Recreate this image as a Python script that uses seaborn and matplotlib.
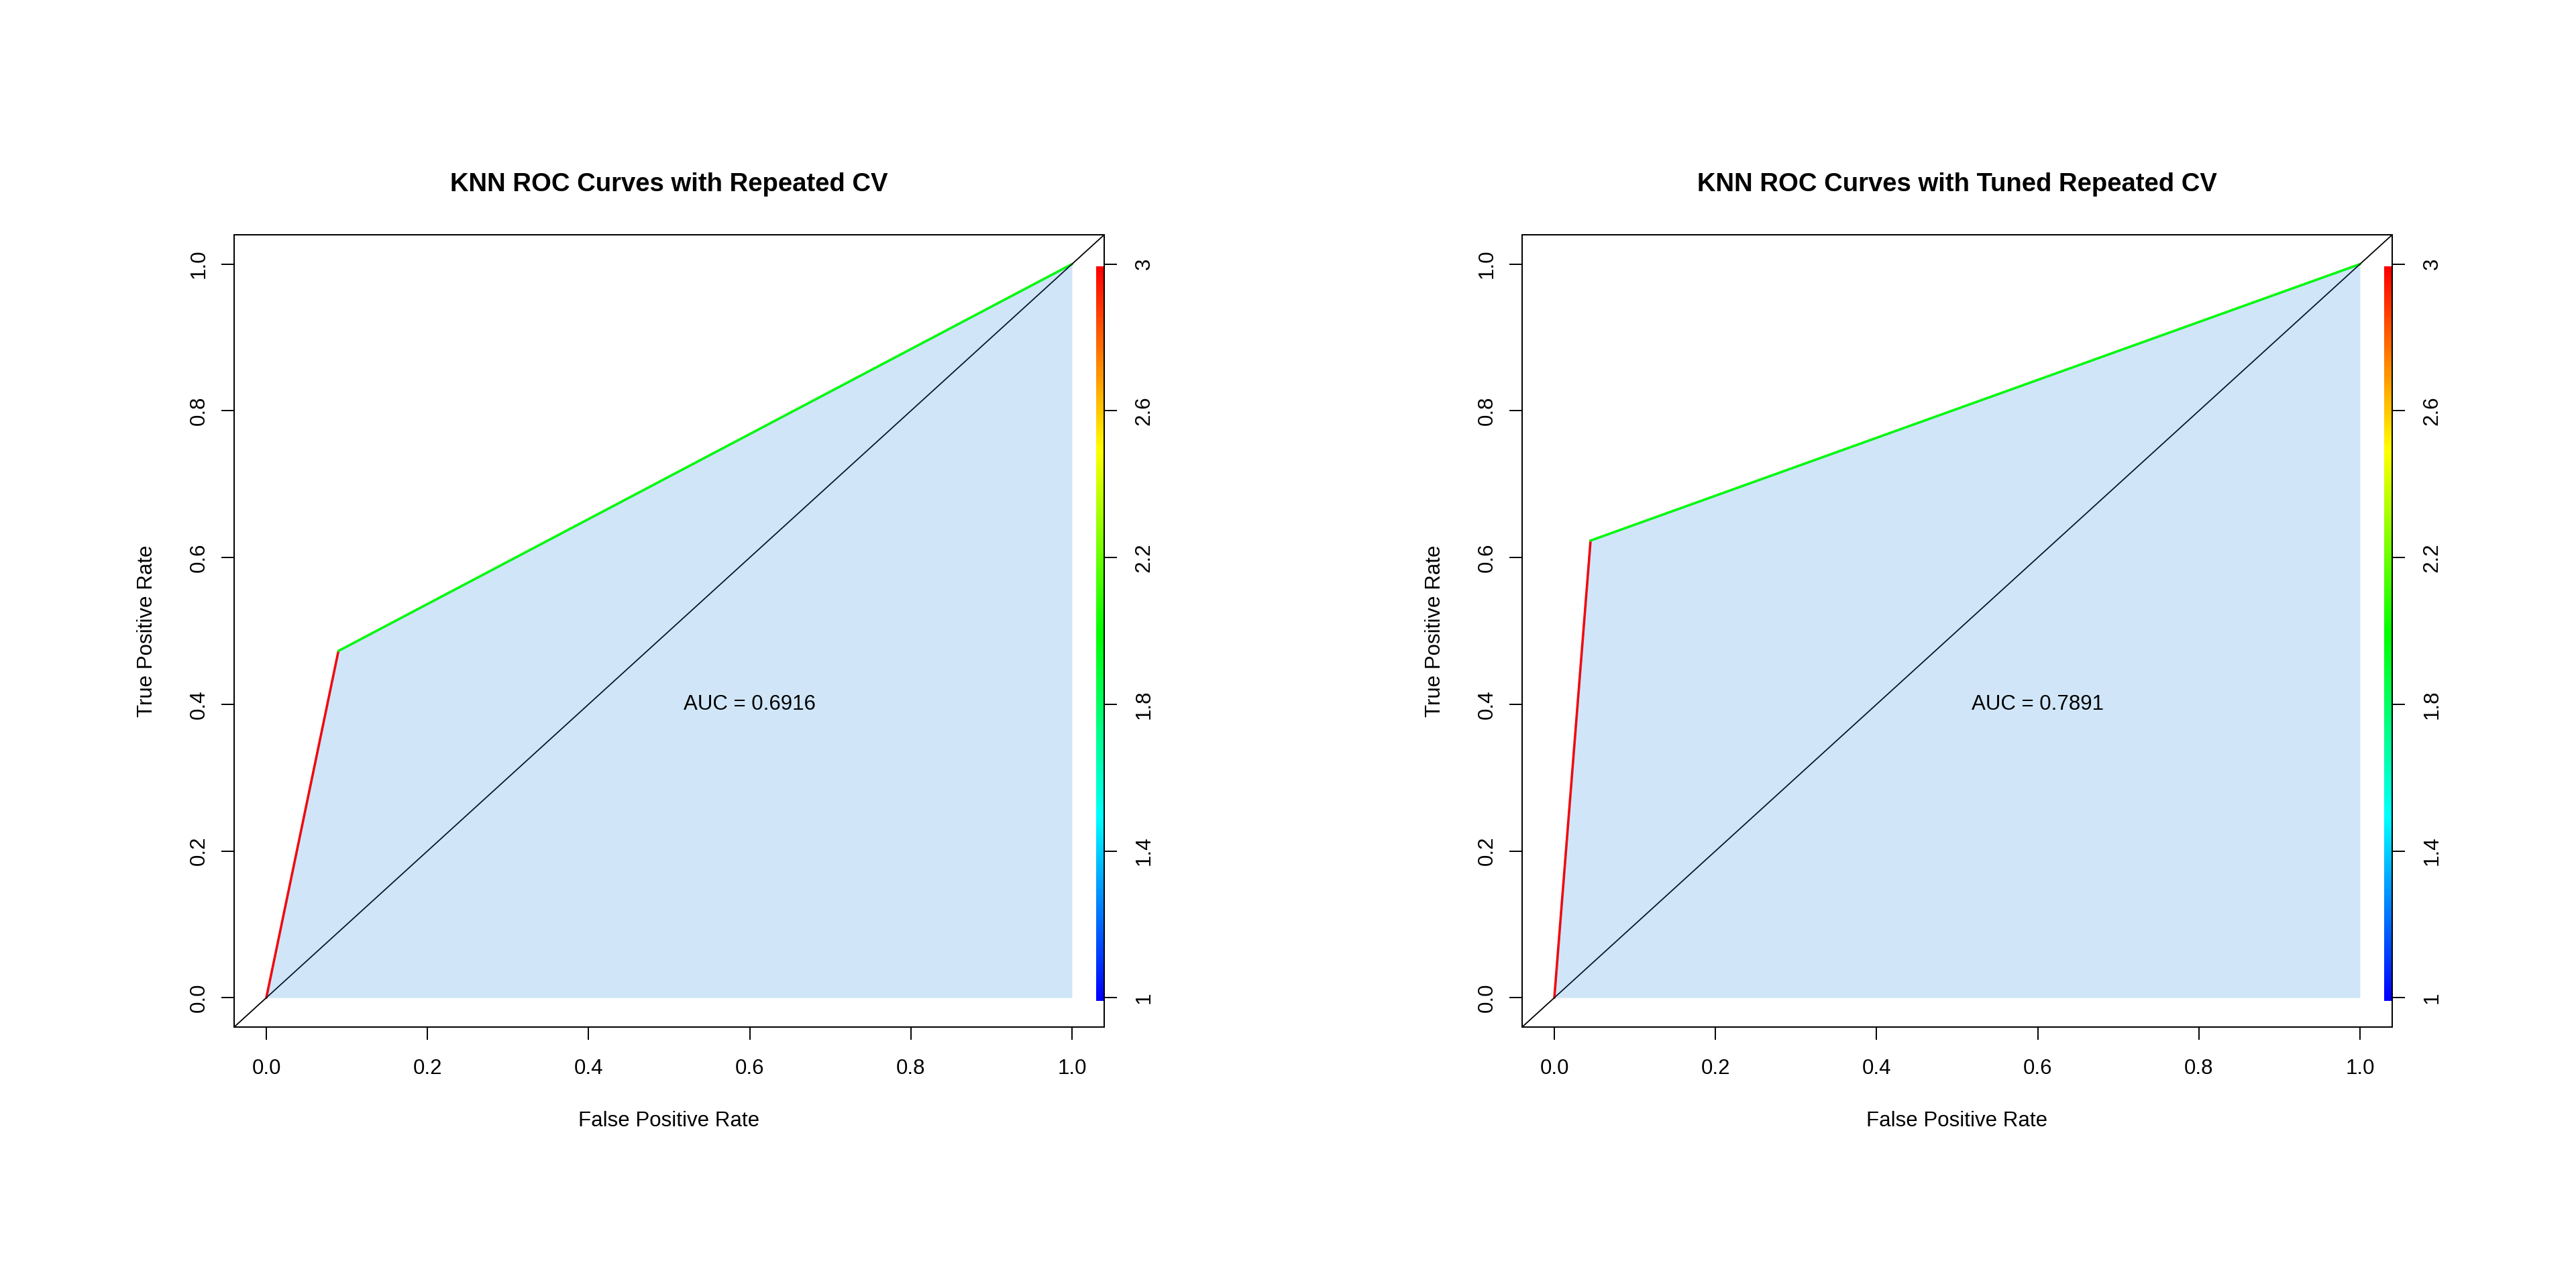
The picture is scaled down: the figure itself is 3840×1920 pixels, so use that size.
import numpy as np
import pandas as pd
import matplotlib
matplotlib.use("Agg")
import matplotlib.pyplot as plt
from matplotlib.colors import ListedColormap, hsv_to_rgb
import seaborn as sns

# values
titles = ["KNN ROC Curves with Repeated CV", "KNN ROC Curves with Tuned Repeated CV"]
fpr_values = [[0.0, 0.0895, 1.0], [0.0, 0.0450, 1.0]]
tpr_values = [[0.0, 0.4727, 1.0], [0.0, 0.6232, 1.0]]
cutoff_values = [[3, 2, 1], [3, 2, 1]]
auc_values = [0.6916, 0.7891]
axis_ticks = [0.0, 0.2, 0.4, 0.6, 0.8, 1.0]
axis_tick_labels = ["0.0", "0.2", "0.4", "0.6", "0.8", "1.0"]
cutoff_ticks = [1, 1.4, 1.8, 2.2, 2.6, 3]
cutoff_tick_labels = ["1", "1.4", "1.8", "2.2", "2.6", "3"]
cutoff_min, cutoff_max = 1, 3

sns.set_style("ticks")
plt.rcParams["font.family"] = ["Liberation Sans", "DejaVu Sans"]
plt.rcParams["text.color"] = "black"
plt.rcParams["xtick.color"] = "black"
plt.rcParams["ytick.color"] = "black"
plt.rcParams["axes.edgecolor"] = "black"

# R rainbow(start=0, end=4/6) reversed: blue for low cutoffs, red for high
hues = np.linspace(4 / 6, 0, 256)
rainbow = ListedColormap(hsv_to_rgb(np.column_stack([hues, np.ones(256), np.ones(256)])))


def norm(c):
    return (c - cutoff_min) / (cutoff_max - cutoff_min)


fs = 22.5
fig = plt.figure(figsize=(38.4, 19.2), dpi=100)
lefts = [349 / 3840, 2269 / 3840]
bottom = 1 - 1531 / 1920
width = 1297 / 3840
height = 1181 / 1920

for k in range(2):
    ax = fig.add_axes([lefts[k], bottom, width, height])
    df = pd.DataFrame({"fpr": fpr_values[k], "tpr": tpr_values[k], "cutoff": cutoff_values[k]})

    # coloured ROC segments
    for i in range(len(df) - 1):
        seg = df.iloc[i:i + 2]
        sns.lineplot(data=seg, x="fpr", y="tpr", sort=False, estimator=None,
                     color=rainbow(norm(seg["cutoff"].iloc[0])), lw=2.6,
                     ax=ax, zorder=2)

    ax.axline((0, 0), (1, 1), color="black", lw=1.3, zorder=2)
    ax.fill_between(df["fpr"], df["tpr"], 0, color=(20 / 255, 130 / 255, 220 / 255),
                    alpha=0.2, lw=0, zorder=3)

    # colour key along the right edge
    grad = np.linspace(0, 1, 256)[:, None]
    ax.imshow(grad, cmap=rainbow, extent=[1.03, 1.04, -0.004, 0.997],
              origin="lower", aspect="auto", zorder=2)

    ax.text(0.6, 0.4, f"AUC = {auc_values[k]:.4f}", ha="center", va="center",
            fontsize=fs, zorder=4)

    ax.set_xlim(-0.04, 1.04)
    ax.set_ylim(-0.04, 1.04)
    ax.set_xticks(axis_ticks)
    ax.set_xticklabels(axis_tick_labels)
    ax.set_yticks(axis_ticks)
    ax.set_yticklabels(axis_tick_labels)
    ax.set_xlabel("")
    ax.set_ylabel("")
    ax.tick_params(axis="both", length=14, width=1.4, labelsize=fs, color="black",
                   labelcolor="black")
    ax.tick_params(axis="x", pad=20)
    ax.tick_params(axis="y", pad=13)
    for lab in ax.get_yticklabels():
        lab.set_rotation(90)
        lab.set_va("center")
    for s in ax.spines.values():
        s.set_visible(True)
        s.set_linewidth(1.4)
        s.set_color("black")

    ax2 = ax.twinx()
    ax2.set_ylim(cutoff_min - 0.04 * (cutoff_max - cutoff_min),
                 cutoff_max + 0.04 * (cutoff_max - cutoff_min))
    ax2.set_yticks(cutoff_ticks)
    ax2.set_yticklabels(cutoff_tick_labels)
    ax2.tick_params(axis="y", length=14, width=1.4, labelsize=fs, pad=18,
                    color="black", labelcolor="black")
    for lab in ax2.get_yticklabels():
        lab.set_rotation(90)
        lab.set_va("center")
    for s in ax2.spines.values():
        s.set_linewidth(1.4)
        s.set_color("black")

    ax.text(0.5, 1 + 65 / 1181, titles[k], transform=ax.transAxes, ha="center",
            va="baseline", fontsize=27.5, fontweight="bold")
    ax.text(0.5, -148 / 1181, "False Positive Rate", transform=ax.transAxes,
            ha="center", va="baseline", fontsize=fs)
    ax.text(-130 / 1297, 0.5, "True Positive Rate", transform=ax.transAxes,
            ha="center", va="center", rotation=90, fontsize=fs)

fig.savefig("out.png", dpi=100)
